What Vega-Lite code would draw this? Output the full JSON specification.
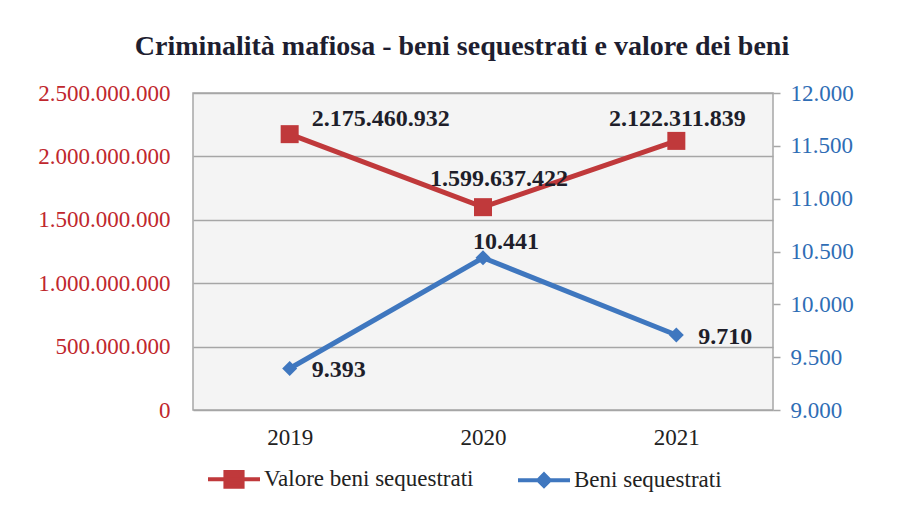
{
  "$schema": "https://vega.github.io/schema/vega-lite/v6.json",
  "width": 580,
  "height": 317,
  "autosize": {"type": "none"},
  "padding": {"left": 193, "top": 93, "right": 134, "bottom": 101},
  "background": "white",
  "title": {
    "text": "Criminalità mafiosa - beni sequestrati e valore dei beni",
    "font": "Liberation Serif",
    "fontSize": 28,
    "fontWeight": "bold",
    "color": "#1e1e30",
    "anchor": "middle",
    "dx": -21,
    "offset": 21
  },
  "config": {
    "locale": {"number": {"decimal": ",", "thousands": ".", "grouping": [3], "currency": ["€", ""]}},
    "view": {"stroke": "#a6a6a6", "strokeWidth": 1.5, "fill": "#f4f4f4"},
    "axis": {"labelFont": "Liberation Serif", "labelFontSize": 23, "titleFont": "Liberation Serif"}
  },
  "data": {
    "values": [
      {"year": "2019", "series": "Valore beni sequestrati", "value": 2175460932},
      {"year": "2020", "series": "Valore beni sequestrati", "value": 1599637422},
      {"year": "2021", "series": "Valore beni sequestrati", "value": 2122311839},
      {"year": "2019", "series": "Beni sequestrati", "value": 9393},
      {"year": "2020", "series": "Beni sequestrati", "value": 10441},
      {"year": "2021", "series": "Beni sequestrati", "value": 9710}
    ]
  },
  "encoding": {
    "x": {
      "field": "year",
      "type": "ordinal",
      "scale": {"type": "point", "padding": 0.5},
      "axis": {"title": null, "labelAngle": 0, "domain": false, "ticks": false, "labelPadding": 16, "labelColor": "#222222", "labelFontSize": 23}
    }
  },
  "layer": [
    {
      "transform": [{"filter": "datum.series === 'Valore beni sequestrati'"}],
      "encoding": {
        "y": {
          "field": "value",
          "type": "quantitative",
          "scale": {"domain": [0, 2500000000], "nice": false, "zero": false},
          "axis": {
            "orient": "left",
            "title": null,
            "values": [0, 500000000, 1000000000, 1500000000, 2000000000, 2500000000],
            "format": ",d",
            "domain": false,
            "ticks": false,
            "grid": true,
            "gridColor": "#a6a6a6",
            "gridWidth": 1.5,
            "labelColor": "#c0272d",
            "labelPadding": 23
          }
        }
      },
      "layer": [
        {
          "mark": {"type": "line", "strokeWidth": 5},
          "encoding": {
            "color": {
              "field": "series",
              "type": "nominal",
              "scale": {"domain": ["Valore beni sequestrati", "Beni sequestrati"], "range": ["#c0393b", "#3f77bf"]},
              "legend": {
                "title": null,
                "orient": "none",
                "direction": "horizontal",
                "legendX": 13,
                "legendY": 358,
                "labelFont": "Liberation Serif",
                "labelFontSize": 23,
                "labelLimit": 0,
                "labelColor": "#222222",
                "symbolSize": 2704,
                "symbolStrokeWidth": 4,
                "labelOffset": 2,
                "columnPadding": 36,
                "encode": {
                  "symbols": {
                    "update": {
                      "shape": {"signal": "datum.value === 'Beni sequestrati' ? 'M-1,0H1M0,-0.22L0.22,0L0,0.22L-0.22,0Z' : 'M-1,0H1M-0.33,-0.28H0.33V0.28H-0.33Z'"},
                      "fill": {"signal": "datum.value === 'Beni sequestrati' ? '#3f77bf' : '#c0393b'"},
                      "stroke": {"signal": "datum.value === 'Beni sequestrati' ? '#3f77bf' : '#c0393b'"},
                      "strokeWidth": {"value": 4},
                      "opacity": {"value": 1}
                    }
                  }
                }
              }
            }
          }
        },
        {
          "mark": {"type": "point", "shape": "square", "filled": true, "size": 324, "opacity": 1, "color": "#c0393b"}
        },
        {
          "transform": [{"filter": "datum.year === '2019'"}],
          "mark": {"type": "text", "align": "left", "dx": 22, "dy": -15, "font": "Liberation Serif", "fontSize": 24, "fontWeight": "bold", "color": "#1e1e2a"},
          "encoding": {"text": {"field": "value", "type": "quantitative", "format": ",d"}}
        },
        {
          "transform": [{"filter": "datum.year === '2020'"}],
          "mark": {"type": "text", "align": "center", "dx": 16, "dy": -28, "font": "Liberation Serif", "fontSize": 24, "fontWeight": "bold", "color": "#1e1e2a"},
          "encoding": {"text": {"field": "value", "type": "quantitative", "format": ",d"}}
        },
        {
          "transform": [{"filter": "datum.year === '2021'"}],
          "mark": {"type": "text", "align": "center", "dx": 1, "dy": -22, "font": "Liberation Serif", "fontSize": 24, "fontWeight": "bold", "color": "#1e1e2a"},
          "encoding": {"text": {"field": "value", "type": "quantitative", "format": ",d"}}
        }
      ]
    },
    {
      "transform": [{"filter": "datum.series === 'Beni sequestrati'"}],
      "encoding": {
        "y": {
          "field": "value",
          "type": "quantitative",
          "scale": {"domain": [9000, 12000], "nice": false, "zero": false},
          "axis": {
            "orient": "right",
            "title": null,
            "values": [9000, 9500, 10000, 10500, 11000, 11500, 12000],
            "format": ",d",
            "domain": false,
            "ticks": true,
            "tickSize": 7,
            "tickColor": "#a6a6a6",
            "tickWidth": 1.5,
            "grid": false,
            "labelColor": "#2f6db5",
            "labelPadding": 10
          }
        }
      },
      "layer": [
        {
          "mark": {"type": "line", "strokeWidth": 5},
          "encoding": {"color": {"field": "series", "type": "nominal"}}
        },
        {
          "mark": {"type": "point", "shape": "diamond", "filled": true, "size": 225, "opacity": 1, "color": "#3f77bf"}
        },
        {
          "transform": [{"filter": "datum.year !== '2020'"}],
          "mark": {"type": "text", "align": "left", "dx": 22, "dy": 2, "font": "Liberation Serif", "fontSize": 24, "fontWeight": "bold", "color": "#1e1e2a"},
          "encoding": {"text": {"field": "value", "type": "quantitative", "format": ",d"}}
        },
        {
          "transform": [{"filter": "datum.year === '2020'"}],
          "mark": {"type": "text", "align": "center", "dx": 23, "dy": -16, "font": "Liberation Serif", "fontSize": 24, "fontWeight": "bold", "color": "#1e1e2a"},
          "encoding": {"text": {"field": "value", "type": "quantitative", "format": ",d"}}
        }
      ]
    }
  ],
  "resolve": {"scale": {"y": "independent"}}
}
